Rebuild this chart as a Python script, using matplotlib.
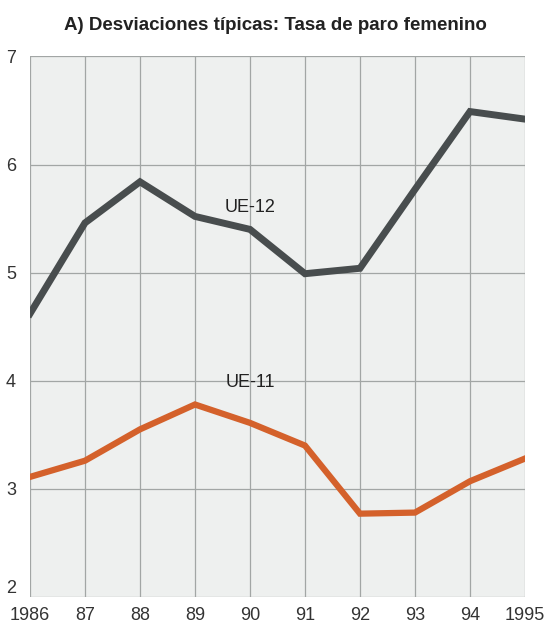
from matplotlib import pyplot as plt
import numpy as np

plt.rcParams['font.family'] = ['Liberation Sans', 'DejaVu Sans']

# data
years = [1986, 1987, 1988, 1989, 1990, 1991, 1992, 1993, 1994, 1995]
x_labels = ['1986', '87', '88', '89', '90', '91', '92', '93', '94', '1995']
ue12 = [4.62, 5.46, 5.84, 5.52, 5.40, 4.99, 5.04, 5.77, 6.49, 6.42]
ue11 = [3.11, 3.26, 3.55, 3.78, 3.61, 3.40, 2.77, 2.78, 3.07, 3.28]
y_ticks = [2, 3, 4, 5, 6, 7]

fig = plt.figure(figsize=(5.5, 6.27), dpi=100)
ax = fig.add_axes([0.0545, 0.048, 0.9, 0.862])
ax.set_facecolor('#eef0ef')

ax.plot(years, ue12, color='#484d4e', linewidth=5, solid_joinstyle='miter')
ax.plot(years, ue11, color='#d4612b', linewidth=4.5, solid_joinstyle='miter')

ax.text(1990.0, 5.6, 'UE-12', fontsize=13, color='#222222', ha='center', va='center')
ax.text(1990.0, 3.98, 'UE-11', fontsize=13, color='#222222', ha='center', va='center')

ax.set_xlim(1986, 1995)
ax.set_ylim(2, 7)
ax.set_xticks(years)
ax.set_xticklabels(x_labels)
ax.set_yticks(y_ticks)
ax.tick_params(length=0, labelsize=13, labelcolor='#333333')
ax.tick_params(axis='x', pad=7)
ax.tick_params(axis='y', pad=10)
ax.get_yticklabels()[0].set_va('bottom')
ax.grid(True, color='#a2a6a5', linewidth=0.9)
ax.set_axisbelow(True)
for s in ax.spines.values():
    s.set_visible(False)

fig.text(0.5, 0.96, 'A) Desviaciones típicas: Tasa de paro femenino',
         ha='center', va='center', fontsize=13.5, fontweight='bold', color='#222222')

plt.savefig('out.png', dpi=100)
